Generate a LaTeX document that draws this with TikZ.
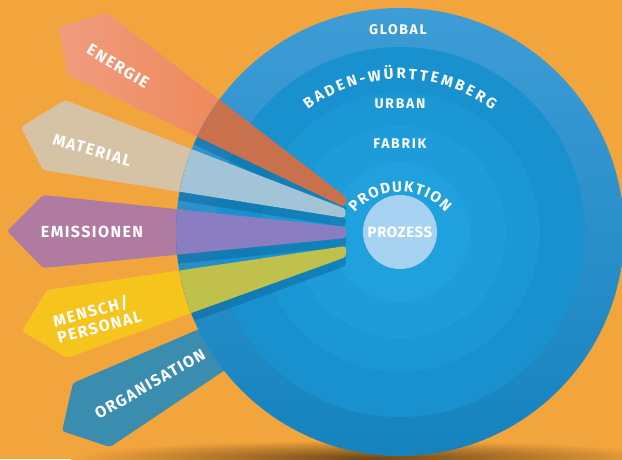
\documentclass[tikz,border=0pt]{standalone}
\usepackage{fontspec}
\setmainfont{Fira Sans}
\usetikzlibrary{decorations.text}

\definecolor{bgorange}{HTML}{F3A53D}
\definecolor{shadowbrown}{HTML}{6E4718}
\definecolor{ringtop}{HTML}{3E9CD6}
\definecolor{ringA}{HTML}{1583BE}
\definecolor{ringB}{HTML}{1991CE}
\definecolor{ringC}{HTML}{1B97D4}
\definecolor{ringD}{HTML}{1D9CD9}
\definecolor{ringE}{HTML}{20A1DE}
\definecolor{core}{HTML}{A8D2F2}
\definecolor{energie}{HTML}{EA7B3E}
\definecolor{energieL}{HTML}{F19C7F}
\definecolor{energieIn}{HTML}{C9714C}
\definecolor{material}{HTML}{D6C3A6}
\definecolor{materialIn}{HTML}{A3C3D6}
\definecolor{emission}{HTML}{AF7BA0}
\definecolor{emissionIn}{HTML}{8B7DC2}
\definecolor{mensch}{HTML}{F6C51D}
\definecolor{menschIn}{HTML}{C0C04C}
\definecolor{orga}{HTML}{3A8DAF}
\definecolor{shadowblue}{HTML}{0B6C9F}

\newcommand\tagfont{\bfseries\fontsize{16}{17}\selectfont\addfontfeatures{LetterSpace=9}}
\newcommand\ringfont{\bfseries\fontsize{14}{15}\selectfont\addfontfeatures{LetterSpace=12}}
\newcommand\arcfont{\bfseries\fontsize{15}{16}\selectfont}

\begin{document}
\begin{tikzpicture}[x=1pt, y=-1pt,
    tag/.style={text=white, inner sep=0pt, font=\tagfont},
    ringlabel/.style={text=white, inner sep=0pt, font=\ringfont},
    banner/.style={rounded corners=3},
    arclabel/.style={decorate, decoration={text along path, text align={fit to path},
                     text color=white, text={|\arcfont|#1}}}
]
% background and shadow
\fill[bgorange] (0,0) rectangle (622,459);
\useasboundingbox (0,0) rectangle (622,459);
\shade[inner color=shadowbrown, outer color=bgorange] (370,458) ellipse [x radius=300, y radius=18];

% banners
\shade[banner, left color=energieL, right color=energie] (58,27) -- (107,13) -- (347,198) -- (344,207) -- (68,75) -- cycle;
\fill[banner, material] (21,127) -- (65,100) -- (346,209) -- (345,218) -- (43,170) -- cycle;
\fill[banner, emission] (7,231) -- (43,195) -- (346,227) -- (346,238) -- (43,268) -- cycle;
\fill[banner, mensch] (22,331) -- (47,290) -- (346,246) -- (346,257) -- (67,358) -- cycle;
\fill[banner, orga] (62,431) -- (73,383) -- (300,286) -- (300,320) -- (110,447) -- cycle;

% rings
\shade[top color=ringtop, bottom color=ringA] (400,232) circle [radius=224];
\foreach \r/\c in {185/ringB, 140/ringC, 106/ringD, 70/ringE, 37/core}
  \fill[\c] (400,232) circle [radius=\r];

% rays inside the disc
\begin{scope}
  \clip (400,232) circle [radius=224];
  \begin{scope}[shift={(0,9)}, shadowblue, opacity=.55]
    \fill[banner] (58,27) -- (107,13) -- (347,198) -- (344,207) -- (68,75) -- cycle;
    \fill[banner] (21,127) -- (65,100) -- (346,209) -- (345,218) -- (43,170) -- cycle;
    \fill[banner] (7,231) -- (43,195) -- (346,227) -- (346,238) -- (43,268) -- cycle;
    \fill[banner] (22,331) -- (47,290) -- (346,246) -- (346,257) -- (67,358) -- cycle;
  \end{scope}
  \fill[banner, energieIn] (58,27) -- (107,13) -- (347,198) -- (344,207) -- (68,75) -- cycle;
  \fill[banner, materialIn] (21,127) -- (65,100) -- (346,209) -- (345,218) -- (43,170) -- cycle;
  \fill[banner, emissionIn] (7,231) -- (43,195) -- (346,227) -- (346,238) -- (43,268) -- cycle;
  \fill[banner, menschIn] (22,331) -- (47,290) -- (346,246) -- (346,257) -- (67,358) -- cycle;
\end{scope}

% banner labels
\node[tag, rotate=-31] (energie) at (118,66) {ENERGIE};
\node[tag, rotate=-16] (material) at (92,150) {MATERIAL};
\node[tag] (emission) at (92,232) {EMISSIONEN};
\node[tag, rotate=15, align=left] (mensch) at (97,318) {MENSCH/\\PERSONAL};
\node[tag, rotate=30] (orga) at (150,384) {ORGANISATION};

% ring labels
\node[ringlabel] (global) at (398,30) {GLOBAL};
\path[arclabel=BADEN-WÜRTTEMBERG] (400,232) ++(-127:153) arc [start angle=-127, end angle=-53, radius=153];
\node[ringlabel] (urban) at (400,104) {URBAN};
\node[ringlabel] (fabrik) at (400,144) {FABRIK};
\path[arclabel=PRODUKTION] (400,252) ++(-139:60) arc [start angle=-139, end angle=-41, radius=60];
\node[ringlabel, font=\arcfont\addfontfeatures{LetterSpace=4}] (prozess) at (400,232) {PROZESS};
\end{tikzpicture}
\end{document}
